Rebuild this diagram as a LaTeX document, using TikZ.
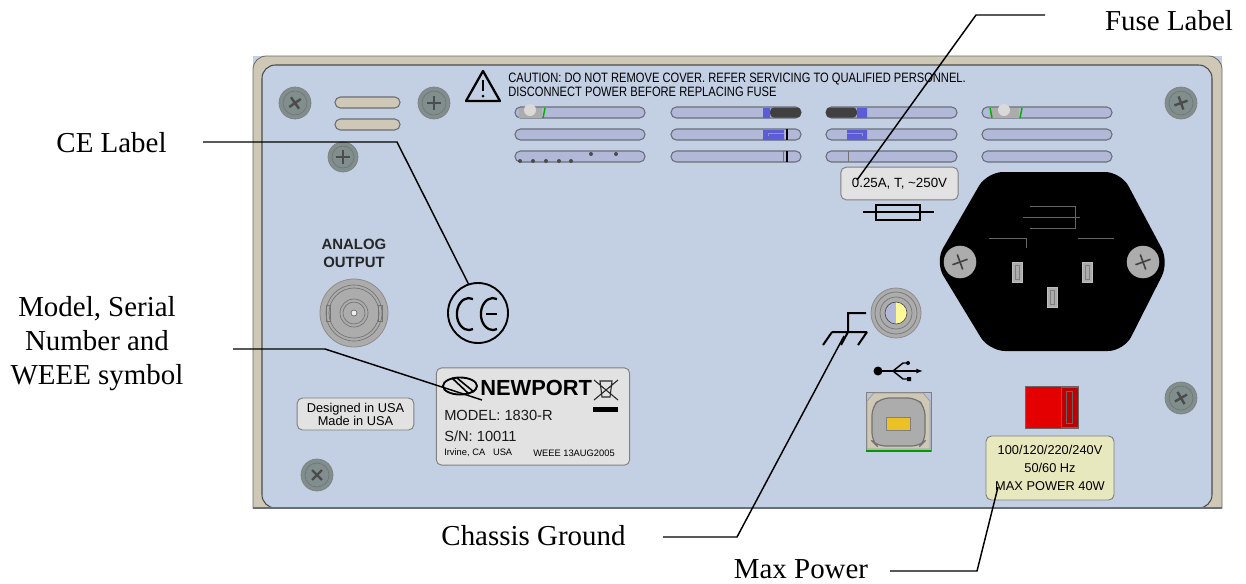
\documentclass[tikz,border=0pt]{standalone}
\usepackage{fontspec}
\setmainfont{Liberation Serif}
\newfontfamily\panelfont{Liberation Sans}
\newfontfamily\narrowfont[FakeStretch=0.82]{Liberation Sans}
\usetikzlibrary{arrows.meta}
\definecolor{panelblue}{RGB}{195,207,227}
\definecolor{framebeige}{RGB}{208,200,182}
\definecolor{slotblue}{RGB}{178,184,216}
\definecolor{slotedge}{RGB}{105,110,120}
\definecolor{screwgray}{RGB}{128,142,142}
\definecolor{plategray}{RGB}{226,226,226}
\definecolor{platecream}{RGB}{232,232,190}
\definecolor{metalgray}{RGB}{172,172,172}
\definecolor{purplepart}{RGB}{92,92,214}
\tikzset{
	callout/.style={font=\fontsize{21.7}{25.5}\selectfont, inner sep=0pt},
	leader/.style={black, line width=1.1pt},
	plate/.style={draw=gray, line width=.7pt, rounded corners=4pt},
	slot/.style={draw=slotedge, line width=.8pt, fill=slotblue, rounded corners=4pt},
	cream/.style={draw=slotedge, line width=.8pt, fill=framebeige, rounded corners=4pt},
	paneltext/.style={font=\narrowfont\fontsize{10.2}{10}\selectfont, align=left, inner sep=0pt, text=black},
	platetext/.style={font=\panelfont\fontsize{8}{13}\selectfont, align=center, inner sep=0pt, text=black},
}
\begin{document}
\begin{tikzpicture}[x=.75pt, y=-.75pt]
	\useasboundingbox (0,0) rectangle (1246,583);
	\fill [panelblue] (253,56) rectangle (1222,508);
	\fill [framebeige, draw=black!60, line width=.6pt] (253,508) [rounded corners=10pt] -- (253,56) -- (1222,56) [sharp corners] -- (1222,508) -- cycle;
	\fill [panelblue, draw=black!70, line width=.8pt] (262,508) [rounded corners=10pt] -- (262,65) -- (1212,65) -- (1212,508) -- cycle;
	\draw [slotedge, line width=.9pt] (253,508) -- (1222,508);

	\foreach \sy in {97, 119} {
		\draw [cream] (335,\sy) rectangle (400,\sy+11);
	}
	\foreach \sx/\ex in {515/645, 671/801, 826/957, 982/1112} {
		\foreach \sy in {107, 129, 151} {
			\draw [slot] (\sx,\sy) rectangle (\ex,\sy+11);
		}
	}
	\fill [black!75, rounded corners=3pt] (770,107.5) rectangle (801,117.5);
	\fill [black!75, rounded corners=3pt] (826,107.5) rectangle (857,117.5);
	\fill [purplepart] (763,108) rectangle (770,118) (857,108) rectangle (867,118);
	\fill [purplepart] (763,130) rectangle (784,140) (847,130) rectangle (867,140);
	\draw [black!40, line width=.6pt] (768,136) -- (768,133) -- (784,133) (847,133) -- (862,133) -- (862,136);
	\draw [black, line width=.9pt] (787,129) -- (787,140) (787,151) -- (787,162);
	\draw [black!55, line width=.7pt] (783,151) -- (783,162) (848,151) -- (848,162);
	\fill [metalgray] (519,108) rectangle (542,118) (990,108) rectangle (1019,118);
	\fill [white!85!black] (530,110) circle [radius=6] (1004,110) circle [radius=6];
	\draw [green!70!black, line width=1.1pt] (545,108) -- (543,118) (990,108) -- (992,118) (1022,108) -- (1020,118);
	\foreach \dx/\dy in {520/161, 533/161, 546/161, 559/161, 571/161, 591/154, 616/154} {
		\fill [black!70] (\dx,\dy) circle [radius=2];
	}

	\foreach \sx/\sy/\sr/\st in {295/103/16/35, 434/103/16/0, 343/157/15/0, 317/475/16/45, 1181/103/16/20, 1181/398/16/30} {
		\draw [fill=screwgray, draw=black!50, line width=.5pt] (\sx,\sy) circle [radius=\sr];
		\draw [black!55, line width=.5pt] (\sx,\sy) circle [radius=\sr-4];
		\draw [black!70, line width=1.8pt, rotate around={\st:(\sx,\sy)}] (\sx-7,\sy) -- (\sx+7,\sy) (\sx,\sy-7) -- (\sx,\sy+7);
	}

	\draw [black, line width=1.7pt, line join=round] (483,71) -- (466,101) -- (500,101) -- cycle;
	\draw [black, line width=1.9pt] (483,80) -- (483,91);
	\fill [black] (483,96) circle [radius=1.5];
	\node [paneltext, anchor=north west] (cautiontext) at (508,73) {CAUTION: DO NOT REMOVE COVER. REFER SERVICING TO QUALIFIED PERSONNEL.\\DISCONNECT POWER BEFORE REPLACING FUSE};

	\node [font=\panelfont\bfseries\fontsize{11.2}{13.5}\selectfont, align=center, inner sep=0pt, text=black!85] (analogtext) at (354,253) {ANALOG\\OUTPUT};
	\draw [fill=metalgray, draw=black!45, line width=.6pt] (354,313) circle [radius=34];
	\foreach \br in {28, 25, 14, 11} {
		\draw [black!55, line width=.5pt] (354,313) circle [radius=\br];
	}
	\draw [fill=white!80!metalgray, draw=black!60, line width=.5pt] (354,313) circle [radius=3];
	\draw [black!55, line width=.5pt] (326,305) rectangle (330,321) (378,305) rectangle (382,321);

	\draw [black, line width=1.4pt] (478,313) circle [radius=30];
	\draw [black, line width=1.7pt] (473,299) arc [start angle=-70, end angle=-290, x radius=12, y radius=16];
	\draw [black, line width=1.7pt] (497,299) arc [start angle=-70, end angle=-290, x radius=12, y radius=16];
	\draw [black, line width=1.7pt] (486,314) -- (497,314);

	\node [plate, fill=plategray, minimum width=87.5pt, minimum height=24pt, inner sep=0pt] (madeplate) at (355.5,414) {};
	\node [platetext, font=\panelfont\fontsize{9.6}{9.8}\selectfont] (madetext) at (madeplate.center) {Designed in USA\\Made in USA};

	\node [plate, fill=plategray, minimum width=145pt, minimum height=73pt, inner sep=0pt] (modelplate) at (533,416.5) {};
	\draw [black, line width=1.4pt] (460,386) ellipse [x radius=17, y radius=8.5];
	\draw [black, line width=1.2pt] (452,378) -- (469,394) (457,378) -- (474,392);
	\node [font=\panelfont\bfseries\fontsize{16.4}{17}\selectfont, inner sep=0pt, anchor=base west] (newporttext) at (480,395) {NEWPORT};
	\node [font=\panelfont\fontsize{11}{12}\selectfont, inner sep=0pt, anchor=west, text=black!90] (modeltext) at (444,415) {MODEL: 1830-R};
	\node [font=\panelfont\fontsize{11}{12}\selectfont, inner sep=0pt, anchor=west, text=black!90] (serialtext) at (444,436) {S/N: 10011};
	\node [font=\panelfont\fontsize{7}{8}\selectfont, inner sep=0pt, anchor=west] (irvinetext) at (444,453) {Irvine, CA\ \ \ USA};
	\node [font=\panelfont\fontsize{7}{8}\selectfont, inner sep=0pt, anchor=west] (weeetext) at (533,453) {WEEE 13AUG2005};
	\draw [black!85, line width=.8pt] (594,380) -- (618,400) (618,380) -- (594,400) (600,381) -- (612,381) -- (610,397) -- (602,397) -- cycle;
	\fill [black] (593,407) rectangle (618,412);

	\node [plate, fill=plategray, minimum width=88pt, minimum height=24.5pt, inner sep=0pt] (fuseplate) at (899.5,183.5) {};
	\node [platetext, font=\panelfont\fontsize{10}{10}\selectfont] (fusetext) at (fuseplate.center) {0.25A, T, \textasciitilde250V};
	\draw [black, line width=.9pt] (863,212) -- (934,212);
	\draw [black, line width=.9pt] (876,205) rectangle (920,220);

	\fill [black, rounded corners=12pt] (987,172) -- (1121,172) -- (1169,262) -- (1124,351) -- (989,351) -- (935,262) -- cycle;
	\draw [black!60!white, line width=.5pt] (1030,206) -- (1075,206) -- (1075,228) -- (1030,228) (1023,217) -- (1080,217) (989,238) -- (1026,238) -- (1026,248) (1078,238) -- (1114,238);
	\foreach \hx in {960, 1143} {
		\draw [fill=metalgray, draw=metalgray] (\hx,262) circle [radius=16];
		\draw [black!75, line width=1.2pt, rotate around={20:(\hx,262)}] (\hx-8,262) -- (\hx+8,262) (\hx,254) -- (\hx,270);
	}
	\foreach \px/\py in {1017/272, 1087/272, 1052/297} {
		\draw [fill=metalgray, draw=white!75!black, line width=.7pt] (\px-5,\py-10) rectangle (\px+5,\py+10);
		\draw [black!50, line width=.4pt] (\px-2,\py-7) rectangle (\px+2,\py+7);
	}

	\draw [fill=metalgray, draw=black!45, line width=.6pt] (896,313) circle [radius=25];
	\draw [black!55, line width=.5pt] (896,313) circle [radius=21] (896,313) circle [radius=16];
	\fill [slotblue] (896,302) arc [start angle=-90, end angle=-270, radius=11] -- cycle;
	\fill [yellow!40!white] (896,302) arc [start angle=-90, end angle=90, radius=11] -- cycle;
	\draw [black!70, line width=.5pt] (896,313) circle [radius=11];
	\draw [black, line width=1.5pt] (866,313) -- (848,313) -- (848,332) (832,332) -- (867,332) (832,332) -- (823,345) (848,332) -- (841,345) (867,332) -- (858,345);

	\fill [black] (878,371) circle [radius=4.5];
	\draw [black, line width=1.1pt, -{Latex[length=5pt]}] (878,371) -- (923,371);
	\draw [black, line width=1.1pt] (893,371) -- (903,363) -- (908,363) (893,371) -- (903,379) -- (909,379);
	\fill [black] (908,363) circle [radius=2] (907,377) rectangle (911,381);

	\draw [fill=slotblue!60!panelblue, draw=black!50, line width=.5pt] (866,392) rectangle (931,451);
	\draw [fill=framebeige, draw=black!40, line width=.5pt] (874,393) -- (923,393) -- (930,401) -- (930,449) -- (867,449) -- (867,401) -- cycle;
	\draw [fill=metalgray, draw=black!55, line width=.9pt, rounded corners=6pt] (881,398) -- (916,398) -- (925,407) -- (925,441) -- (920,446) -- (877,446) -- (872,441) -- (872,407) -- cycle;
	\draw [fill=yellow!60!orange!85!gray, draw=black!50, line width=.4pt] (886,417) rectangle (910,430);
	\draw [green!60!black, line width=1.5pt] (866,450.5) -- (931,450.5);

	\fill [red!90!black, draw=black!60, line width=.5pt] (1025,386) rectangle (1078,428);
	\draw [fill=red!75!black, draw=black!60, line width=.5pt] (1061,387) rectangle (1078,427);
	\draw [draw=black!60, line width=.5pt] (1066,391) rectangle (1072,423);

	\node [plate, fill=platecream, minimum width=96pt, minimum height=48pt, inner sep=0pt] (powerplate) at (1050,468) {};
	\node [platetext, font=\panelfont\fontsize{9.6}{13.4}\selectfont] (powertext) at (powerplate.center) {100/120/220/240V\\50/60 Hz\\MAX POWER 40W};

	\node [callout] (celabel) at (111.5,143) {CE Label};
	\node [callout, align=center] (modellabel) at (97,344) {Model, Serial\\Number and\\WEEE symbol};
	\node [callout] (fuselabel) at (1169,21) {Fuse Label};
	\node [callout] (chassislabel) at (533.5,536) {Chassis Ground};
	\node [callout] (powerlabel) at (801,569) {Max Power};

	\coordinate (cestart) at (203,142);
	\coordinate (ceelbow) at (397,142);
	\coordinate (cemark) at (469,285);
	\coordinate (modelstart) at (233,349);
	\coordinate (modelelbow) at (325,349);
	\coordinate (modelmark) at (482,400);
	\coordinate (fusestart) at (1045,15);
	\coordinate (fuseelbow) at (976,15);
	\coordinate (fusemark) at (857,180);
	\coordinate (chassisstart) at (663,537);
	\coordinate (chassiselbow) at (737,537);
	\coordinate (chassismark) at (844,336);
	\coordinate (powerstart) at (890,571);
	\coordinate (powerelbow) at (977,571);
	\coordinate (powermark) at (998,487);
	\draw [leader] (cestart) -- (ceelbow) -- (cemark);
	\draw [leader] (modelstart) -- (modelelbow) -- (modelmark);
	\draw [leader] (fusestart) -- (fuseelbow) -- (fusemark);
	\draw [leader] (chassisstart) -- (chassiselbow) -- (chassismark);
	\draw [leader] (powerstart) -- (powerelbow) -- (powermark);
\end{tikzpicture}
\end{document}
